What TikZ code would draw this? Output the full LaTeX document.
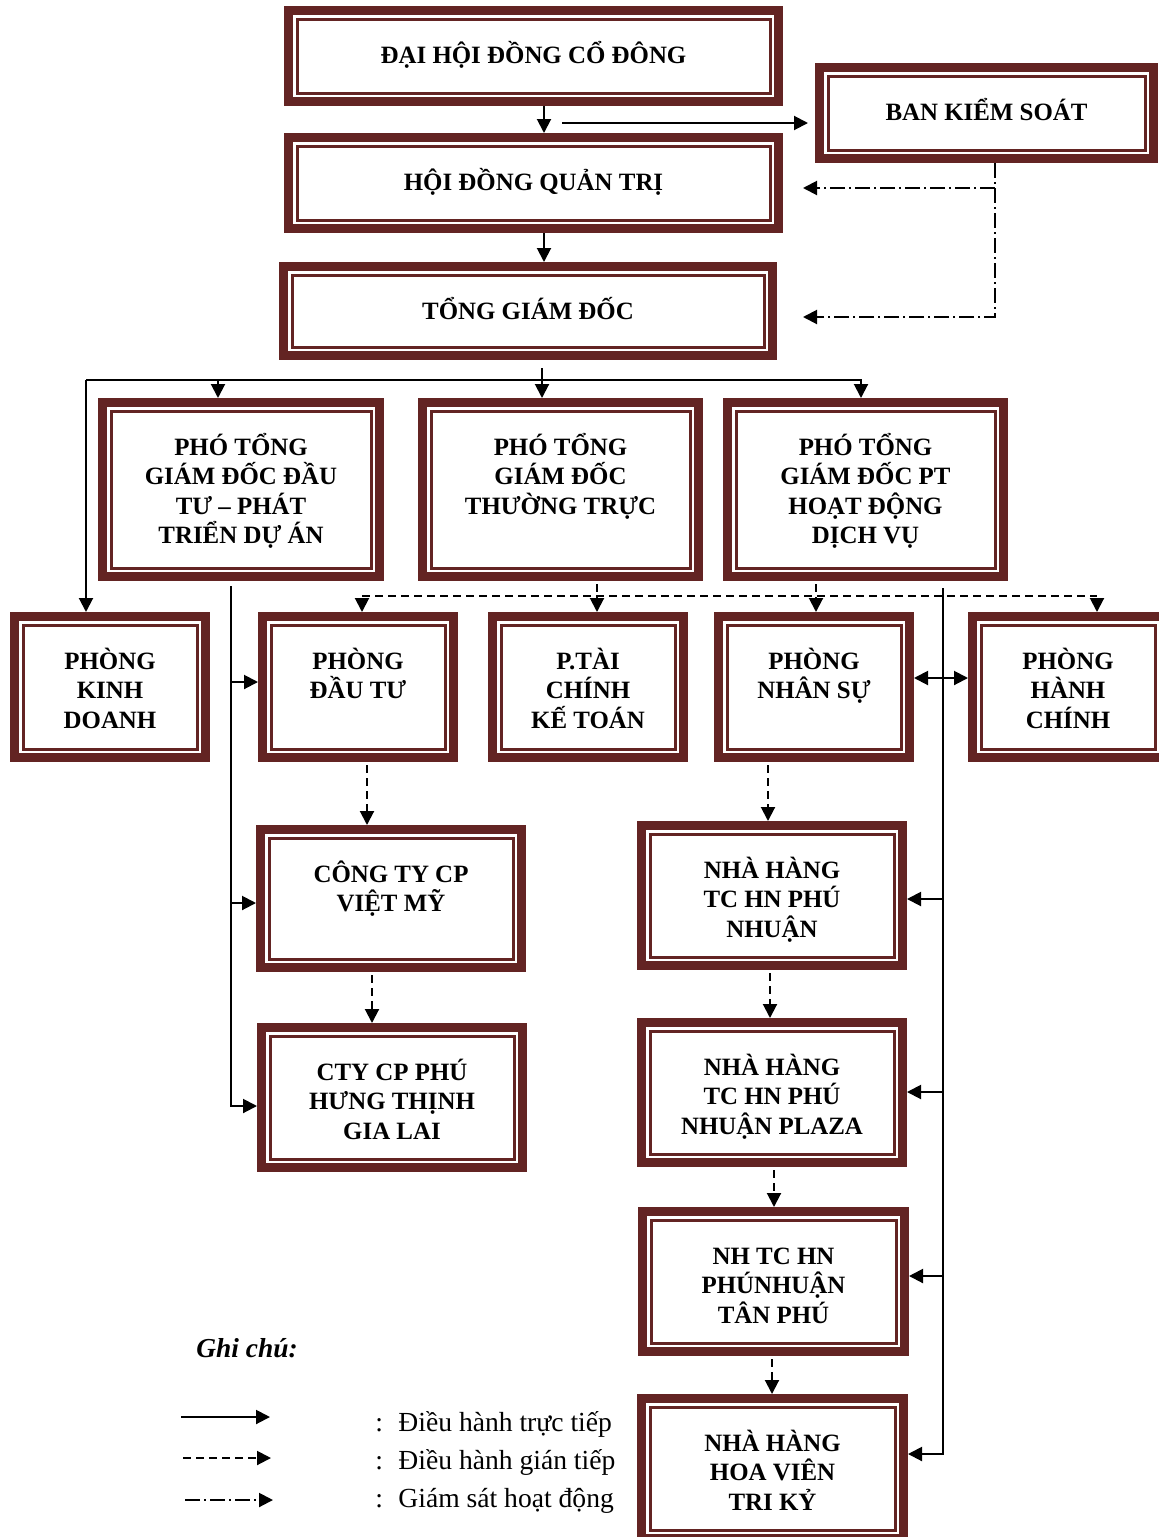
\documentclass[tikz,border=0pt]{standalone}
\usepackage{fontspec}
\setmainfont{Liberation Serif}
\usepackage{tikz}
\usetikzlibrary{arrows.meta}
\definecolor{brd}{RGB}{99,36,35}
\tikzset{orgbox/.style={draw=brd,line width=4.5pt,fill=white,inner sep=0pt,
    font=\bfseries\fontsize{12.45pt}{14.75pt}\selectfont,
    path picture={\draw[brd,line width=1.5pt]
      ([shift={(4.25pt,4.25pt)}]path picture bounding box.south west) rectangle
      ([shift={(-4.25pt,-4.25pt)}]path picture bounding box.north east);}},
  direct/.style={line width=1pt,-{Triangle[length=7pt,width=7pt]}},
  indirect/.style={direct,dash pattern=on 4pt off 2.5pt},
  monitor/.style={direct,dash pattern=on 7.5pt off 2pt on 1pt off 2pt},
  legtext/.style={anchor=base west,inner sep=0pt,font=\fontsize{13.8pt}{16pt}\selectfont}}
\newcommand{\orgtext}[3]{\parbox[t][#2][t]{#1}{\centering\rule{0pt}{26.3pt}#3}}

\begin{document}
\begin{tikzpicture}[x=0.5pt,y=-0.5pt]
	\useasboundingbox (0,0) rectangle (1158,1537);
	\node[orgbox] (dhdcd) at (533.5,56) {\orgtext{245pt}{45.5pt}{ĐẠI HỘI ĐỒNG CỔ ĐÔNG}};
	\node[orgbox] (hdqt) at (533.5,183) {\orgtext{245pt}{45.5pt}{HỘI ĐỒNG QUẢN TRỊ}};
	\node[orgbox] (bks) at (986.5,113) {\orgtext{167pt}{45.5pt}{BAN KIỂM SOÁT}};
	\node[orgbox] (tgd) at (528,311) {\orgtext{244.5pt}{44.5pt}{TỔNG GIÁM ĐỐC}};
	%
	\node[orgbox] (ptgd1) at (241,489.5) {\orgtext{138.5pt}{87pt}{PHÓ TỔNG\\GIÁM ĐỐC ĐẦU\\TƯ – PHÁT\\TRIỂN DỰ ÁN}};
	\node[orgbox] (ptgd2) at (560.5,489.5) {\orgtext{138pt}{87pt}{PHÓ TỔNG\\GIÁM ĐỐC\\THƯỜNG TRỰC}};
	\node[orgbox] (ptgd3) at (865.5,489.5) {\orgtext{138pt}{87pt}{PHÓ TỔNG\\GIÁM ĐỐC PT\\HOẠT ĐỘNG\\DỊCH VỤ}};
	%
	\node[orgbox] (pkd) at (110,687) {\orgtext{95.5pt}{70.5pt}{PHÒNG\\KINH\\DOANH}};
	\node[orgbox] (pdt) at (358,687) {\orgtext{95.5pt}{70.5pt}{PHÒNG\\ĐẦU TƯ}};
	\node[orgbox] (tckt) at (588,687) {\orgtext{95.5pt}{70.5pt}{P.TÀI\\CHÍNH\\KẾ TOÁN}};
	\node[orgbox] (pns) at (814,687) {\orgtext{95.5pt}{70.5pt}{PHÒNG\\NHÂN SỰ}};
	\node[orgbox] (phc) at (1068,687) {\orgtext{95.5pt}{70.5pt}{PHÒNG\\HÀNH\\CHÍNH}};
	%
	\node[orgbox] (ctvm) at (391,898.5) {\orgtext{130.5pt}{69pt}{CÔNG TY CP\\VIỆT MỸ}};
	\node[orgbox] (ctyph) at (392,1097.5) {\orgtext{130.5pt}{70pt}{CTY CP PHÚ\\HƯNG THỊNH\\GIA LAI}};
	\node[orgbox] (nhpn) at (772,895.5) {\orgtext{130.5pt}{70pt}{NHÀ HÀNG\\TC HN PHÚ\\NHUẬN}};
	\node[orgbox] (nhpz) at (772,1092.5) {\orgtext{130.5pt}{70pt}{NHÀ HÀNG\\TC HN PHÚ\\NHUẬN PLAZA}};
	\node[orgbox] (nhtp) at (773.5,1281.5) {\orgtext{131pt}{70pt}{NH TC HN\\PHÚNHUẬN\\TÂN PHÚ}};
	\node[orgbox] (nhhv) at (772.5,1468.5) {\orgtext{131pt}{70pt}{NHÀ HÀNG\\HOA VIÊN\\TRI KỶ}};
	%
	\draw[direct] (dhdcd.south -| 544,0) -- (hdqt.north -| 544,0);
	\draw[direct] (hdqt.south -| 544,0) -- (tgd.north -| 544,0);
	\coordinate (kso) at (562,123);
	\draw[direct,shorten >=3.5pt] (kso) -- (kso -| bks.west);
	\coordinate (ksv) at (995,188);
	\coordinate (ksb) at (995,317);
	\draw[monitor] (bks.south -| ksv) -- (ksb) -- ([xshift=13pt]tgd.east |- ksb);
	\draw[monitor] (ksv) -- ([xshift=10pt]hdqt.east |- ksv);
	%
	\coordinate (busL) at (86,380);
	\coordinate (busR) at (861,380);
	\draw[direct] (busL) -- (busR) -- (busR |- ptgd3.north);
	\draw[direct] (busL) -- (busL |- pkd.north);
	\draw[direct] (busL -| 218,0) -- (ptgd1.north -| 218,0);
	\draw[direct,shorten <=4pt] (tgd.south -| 542,0) -- (ptgd2.north -| 542,0);
	%
	\coordinate (dtb) at (231,1106);
	\draw[direct,shorten <=2.5pt] (ptgd1.south -| dtb) -- (dtb) -- (ctyph.west |- dtb);
	\draw[direct] (dtb |- 0,682) -- (pdt.west |- 0,682);
	\draw[direct] (dtb |- 0,903) -- (ctvm.west |- 0,903);
	%
	\coordinate (dvb) at (943,1454);
	\draw[direct,shorten <=3.5pt] (ptgd3.south -| dvb) -- (dvb) -- (nhhv.east |- dvb);
	\draw[direct] (dvb |- 0,899) -- (nhpn.east |- 0,899);
	\draw[direct] (dvb |- 0,1092) -- (nhpz.east |- 0,1092);
	\draw[direct] (dvb |- 0,1276) -- (nhtp.east |- 0,1276);
	\draw[direct,{Triangle[length=7pt,width=7pt]}-{Triangle[length=7pt,width=7pt]}]
	  (pns.east |- 0,678) -- (phc.west |- 0,678);
	%
	\coordinate (dbL) at (362,596);
	\coordinate (dbR) at (1097,596);
	\draw[indirect,-] (dbL) -- (dbR);
	\path[indirect,shorten <=1.5pt]
	(dbL) edge (pdt.north -| dbL)
	(dbR) edge (phc.north -| dbR)
	(ptgd2.south -| 597,0) edge (tckt.north -| 597,0)
	(ptgd3.south -| 816,0) edge (pns.north -| 816,0)
	(pdt.south -| 367,0) edge (ctvm.north -| 367,0)
	(ctvm.south -| 372,0) edge (ctyph.north -| 372,0)
	(pns.south -| 768,0) edge (nhpn.north -| 768,0)
	(nhpn.south -| 770,0) edge (nhpz.north -| 770,0)
	(nhpz.south -| 774,0) edge (nhtp.north -| 774,0)
	(nhtp.south -| 772,0) edge (nhhv.north -| 772,0);
	%
	\node[legtext,font=\bfseries\itshape\fontsize{13.7pt}{16pt}\selectfont] (note) at (196,1357) {Ghi chú:};
	\draw[direct] (181,1417) -- (270,1417);
	\draw[indirect] (183,1458) -- (271,1458);
	\draw[monitor] (185,1500) -- (273,1500);
	\node[legtext] (l1) at (375,1431) {:\hspace{7.7pt}Điều hành trực tiếp};
	\node[legtext] (l2) at (375,1469) {:\hspace{7.7pt}Điều hành gián tiếp};
	\node[legtext] (l3) at (375,1507) {:\hspace{7.7pt}Giám sát hoạt động};
\end{tikzpicture}
\end{document}
